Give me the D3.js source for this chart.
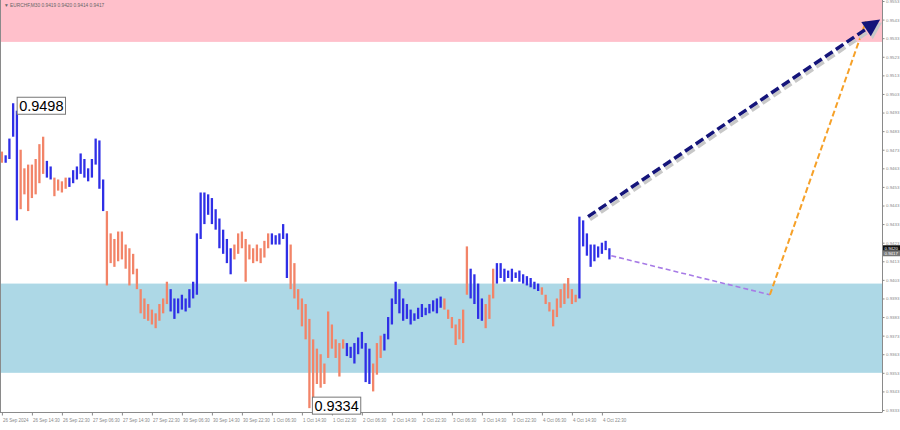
<!DOCTYPE html>
<html><head><meta charset="utf-8">
<script src="https://cdn.jsdelivr.net/npm/d3@7"></script>
<style>body{margin:0;background:#fff}svg{display:block}</style>
</head><body>
<svg id="c" width="900" height="430"></svg>
<script>
// ---- DATA ----
const headerText = "\u25BC EURCHF,M30  0.9419 0.9420 0.9414 0.9417";
const highs = [0.9472,0.9470,0.9479,0.9498,0.9494,0.9473,0.9463,0.9465,0.9465,0.9468,
0.9476,0.9480,0.9467,0.9464,0.9458,0.9457,0.9456,0.9458,0.9458,0.9462,
0.9464,0.9471,0.9468,0.9463,0.9468,0.9479,0.9478,0.9457,0.9440,0.9428,
0.9425,0.9429,0.9429,0.9422,0.9420,0.9417,0.9409,0.9398,0.9393,0.9390,
0.9387,0.9385,0.9390,0.9393,0.9402,0.9398,0.9393,0.9393,0.9395,0.9393,
0.9398,0.9402,0.9428,0.9450,0.9450,0.9449,0.9447,0.9441,0.9436,0.9430,
0.9425,0.9420,0.9422,0.9428,0.9429,0.9425,0.9422,0.9420,0.9422,0.9420,
0.9424,0.9428,0.9428,0.9427,0.9428,0.9433,0.9428,0.9422,0.9412,0.9398,
0.9393,0.9390,0.9382,0.9371,0.9366,0.9363,0.9358,0.9386,0.9379,0.9371,
0.9369,0.9371,0.9369,0.9367,0.9369,0.9372,0.9375,0.9369,0.9366,0.9358,
0.9369,0.9373,0.9374,0.9383,0.9393,0.9402,0.9398,0.9393,0.9390,0.9387,
0.9385,0.9388,0.9390,0.9388,0.9390,0.9392,0.9393,0.9394,0.9393,0.9387,
0.9383,0.9379,0.9382,0.9387,0.9421,0.9409,0.9406,0.9401,0.9393,0.9390,
0.9395,0.9409,0.9412,0.9412,0.9409,0.9408,0.9409,0.9407,0.9408,0.9406,
0.9405,0.9404,0.9402,0.9401,0.9399,0.9395,0.9391,0.9387,0.9393,0.9398,
0.9401,0.9404,0.9398,0.9395,0.9437,0.9435,0.9428,0.9422,0.9422,0.9421,
0.9423,0.9424,0.9420];
const lows = [0.9466,0.9466,0.9468,0.9480,0.9435,0.9441,0.9449,0.9440,0.9447,0.9449,
0.9455,0.9460,0.9458,0.9457,0.9448,0.9451,0.9450,0.9452,0.9453,0.9455,
0.9457,0.9460,0.9458,0.9456,0.9458,0.9465,0.9452,0.9440,0.9400,0.9412,
0.9410,0.9413,0.9414,0.9409,0.9400,0.9406,0.9398,0.9385,0.9382,0.9381,
0.9379,0.9377,0.9381,0.9385,0.9390,0.9386,0.9382,0.9385,0.9387,0.9386,
0.9388,0.9393,0.9395,0.9425,0.9433,0.9438,0.9433,0.9430,0.9420,0.9417,
0.9412,0.9406,0.9414,0.9417,0.9420,0.9402,0.9414,0.9412,0.9413,0.9412,
0.9415,0.9420,0.9422,0.9422,0.9422,0.9425,0.9404,0.9398,0.9393,0.9387,
0.9378,0.9371,0.9334,0.9339,0.9347,0.9345,0.9347,0.9361,0.9366,0.9361,
0.9351,0.9366,0.9362,0.9361,0.9358,0.9363,0.9366,0.9348,0.9347,0.9343,
0.9352,0.9361,0.9365,0.9371,0.9379,0.9390,0.9385,0.9381,0.9382,0.9379,
0.9381,0.9382,0.9383,0.9384,0.9385,0.9386,0.9385,0.9388,0.9387,0.9382,
0.9377,0.9368,0.9371,0.9369,0.9395,0.9393,0.9390,0.9382,0.9381,0.9377,
0.9382,0.9393,0.9401,0.9404,0.9402,0.9404,0.9402,0.9404,0.9402,0.9401,
0.9400,0.9399,0.9398,0.9397,0.9395,0.9390,0.9386,0.9378,0.9383,0.9388,
0.9390,0.9393,0.9390,0.9391,0.9393,0.9421,0.9416,0.9410,0.9413,0.9415,
0.9417,0.9419,0.9414];
const waveStarts = [0,1,5,12,14,18,28,45,62,72,77,92,99,102,118,125,129,132,144,154];
const waveDirs = ["down","up","down","up","down","up","down","up","down","up",
                  "down","up","down","up","down","up","down","up","down","up"];
const xTickLabels = ["26 Sep 2024","26 Sep 14:30","26 Sep 22:30","27 Sep 06:30","27 Sep 14:30",
"27 Sep 22:30","30 Sep 06:30","30 Sep 14:30","30 Sep 22:30","1 Oct 06:30","1 Oct 14:30",
"1 Oct 22:30","2 Oct 06:30","2 Oct 14:30","2 Oct 22:30","3 Oct 06:30","3 Oct 14:30",
"3 Oct 22:30","4 Oct 06:30","4 Oct 14:30","4 Oct 22:30"];
const barsPerXTick = 8;
const yTickValues = [0.9553,0.9543,0.9533,0.9523,0.9513,0.9503,0.9493,0.9483,0.9473,0.9463,
0.9453,0.9443,0.9433,0.9423,0.9413,0.9403,0.9393,0.9383,0.9373,0.9363,0.9353,0.9343,0.9333];
const extremeIdx = [3, 82];
const extremePrice = [0.9498, 0.9334];
const extremeLabel = ["0.9498", "0.9334"];
const resistanceZone = [0.9531, 0.9570];
const supportZone = [0.9353, 0.9401];
const mainForecastIdx = [156.3, 234.2];
const mainForecastPrice = [0.9437, 0.9543];
const altForecastIdx = [162.5, 204.8, 230.4];
const altForecastPrice = [0.9416, 0.9395, 0.9542];
const bidPrice = 0.9420, askPrice = 0.9417;

// ---- LAYOUT ----
const plotL = 1, plotR = 882, plotT = 0, plotB = 412;
const FONT = "Liberation Sans, Arial, sans-serif";
const svg = d3.select("#c");
const x = d3.scaleLinear().domain([0, 8]).range([1.9, 31.9]);
const y = d3.scaleLinear().domain([0.9333, 0.9553]).range([410, 1]);
const upCol = "#2f2fe6", downCol = "#f28468";

svg.append("defs").append("clipPath").attr("id","pc")
  .append("rect").attr("x",plotL).attr("y",plotT).attr("width",plotR-plotL).attr("height",plotB-plotT);

const g = svg.append("g").attr("clip-path","url(#pc)");
// zones
g.append("rect").attr("x",plotL).attr("width",plotR-plotL)
  .attr("y",y(resistanceZone[1])).attr("height",y(resistanceZone[0])-y(resistanceZone[1]))
  .attr("fill","#ffc0cb");
g.append("rect").attr("x",plotL).attr("width",plotR-plotL)
  .attr("y",y(supportZone[1])).attr("height",y(supportZone[0])-y(supportZone[1]))
  .attr("fill","#add8e6");

// bars
function dirOf(i){ let d = waveDirs[0]; waveStarts.forEach((s,k)=>{ if(i>=s) d = waveDirs[k]; }); return d; }
g.selectAll("line.bar").data(highs).join("line").attr("class","bar")
  .attr("x1",(d,i)=>x(i)).attr("x2",(d,i)=>x(i))
  .attr("y1",d=>y(d)).attr("y2",(d,i)=>y(lows[i]))
  .attr("stroke",(d,i)=>dirOf(i)==="up"?upCol:downCol)
  .attr("stroke-width",2.3);

// forecasts
const lineGen = d3.line().x(d=>x(d[0])).y(d=>y(d[1]));
const alt = altForecastIdx.map((v,i)=>[v, altForecastPrice[i]]);
g.append("path").attr("d",lineGen(alt.slice(0,2))).attr("fill","none")
  .attr("stroke","#a77be6").attr("stroke-width",1.6).attr("stroke-dasharray","5,3");
g.append("path").attr("d",lineGen(alt.slice(1))).attr("fill","none")
  .attr("stroke","#f6a129").attr("stroke-width",2).attr("stroke-dasharray","6,3");
const main = mainForecastIdx.map((v,i)=>[v, mainForecastPrice[i]]);
const mx0 = x(main[0][0]), my0 = y(main[0][1]), mx1 = x(main[1][0]), my1 = y(main[1][1]);
const ang = Math.atan2(my1-my0, mx1-mx0);
const headLen = 17, headW = 8.5;
const bx = mx1 - headLen*Math.cos(ang), by = my1 - headLen*Math.sin(ang);
g.append("line").attr("x1",mx0+2).attr("y1",my0+3).attr("x2",bx+2).attr("y2",by+3)
  .attr("stroke","#c8c8c8").attr("stroke-width",3.5).attr("stroke-dasharray","9,4");
g.append("line").attr("x1",mx0).attr("y1",my0).attr("x2",bx).attr("y2",by)
  .attr("stroke","#14147a").attr("stroke-width",3.5).attr("stroke-dasharray","9,4");
const px = -Math.sin(ang), py = Math.cos(ang);
const headPts = [[mx1,my1],[bx+px*headW,by+py*headW],[bx-px*headW,by-py*headW]];
g.append("polygon").attr("points",headPts.map(p=>[p[0]+2,p[1]+3].join(",")).join(" ")).attr("fill","#c8c8c8");
g.append("polygon").attr("points",headPts.map(p=>p.join(",")).join(" ")).attr("fill","#14147a");

// frame
svg.append("line").attr("x1",plotR+0.5).attr("x2",plotR+0.5).attr("y1",0).attr("y2",plotB).attr("stroke","#8a8a8a");
svg.append("line").attr("x1",0).attr("x2",plotR+0.5).attr("y1",plotB+0.5).attr("y2",plotB+0.5).attr("stroke","#8a8a8a");
svg.append("line").attr("x1",0.5).attr("x2",0.5).attr("y1",0).attr("y2",plotB).attr("stroke","#8a8a8a");

// header
svg.append("text").attr("x",4).attr("y",7).attr("font-family",FONT)
  .attr("font-size",4.8).attr("fill","#666").text(headerText);

// y axis (right)
const yAxis = d3.axisRight(y).tickValues(yTickValues).tickFormat(d3.format(".4f")).tickSize(2).tickPadding(1.5);
const ya = svg.append("g").attr("transform",`translate(${plotR+0.5},0)`).call(yAxis);
ya.select(".domain").remove();
ya.selectAll("line").attr("stroke","#8a8a8a");
ya.selectAll("text").attr("font-size",4.4).attr("fill","#888").attr("font-family",FONT);

// x axis
const xTickIdx = xTickLabels.map((_,k)=>k*barsPerXTick);
const xAxis = d3.axisBottom(x).tickValues(xTickIdx).tickFormat((d,k)=>xTickLabels[k]).tickSize(3).tickPadding(3);
const xa = svg.append("g").attr("transform",`translate(0,${plotB+0.5})`).call(xAxis);
xa.select(".domain").remove();
xa.selectAll("line").attr("stroke","#8a8a8a");
xa.selectAll("text").attr("font-size",4.5).attr("fill","#888").attr("text-anchor","start")
  .attr("dx",0.5).attr("font-family",FONT);

// price tags
const bidY = y(bidPrice);
svg.append("rect").attr("x",plotR+1).attr("y",bidY-3).attr("width",17).attr("height",5.5).attr("fill","#111");
svg.append("text").attr("x",plotR+2.5).attr("y",bidY+1.5).attr("font-size",4.4).attr("font-family",FONT)
  .attr("fill","#fff").text(d3.format(".4f")(bidPrice));
svg.append("rect").attr("x",plotR+1).attr("y",bidY+2.5).attr("width",17).attr("height",5.5).attr("fill","#777");
svg.append("text").attr("x",plotR+2.5).attr("y",bidY+7).attr("font-size",4.4).attr("font-family",FONT)
  .attr("fill","#fff").text(d3.format(".4f")(askPrice));

// extreme labels
const offs = [[4,-6],[3,-11]];
extremeIdx.forEach((idx,k)=>{
  const ex = x(idx)+offs[k][0], ey = y(extremePrice[k])+offs[k][1];
  const gg = svg.append("g");
  const t = gg.append("text").attr("x",ex+2).attr("y",ey+14).attr("font-size",14.5)
    .attr("font-family",FONT).attr("fill","#000").text(extremeLabel[k]);
  const bb = t.node().getBBox();
  gg.insert("rect","text").attr("x",ex).attr("y",ey).attr("width",bb.width+4).attr("height",17)
    .attr("fill","#fff").attr("stroke","#777").attr("stroke-width",1);
});
</script>
</body></html>
